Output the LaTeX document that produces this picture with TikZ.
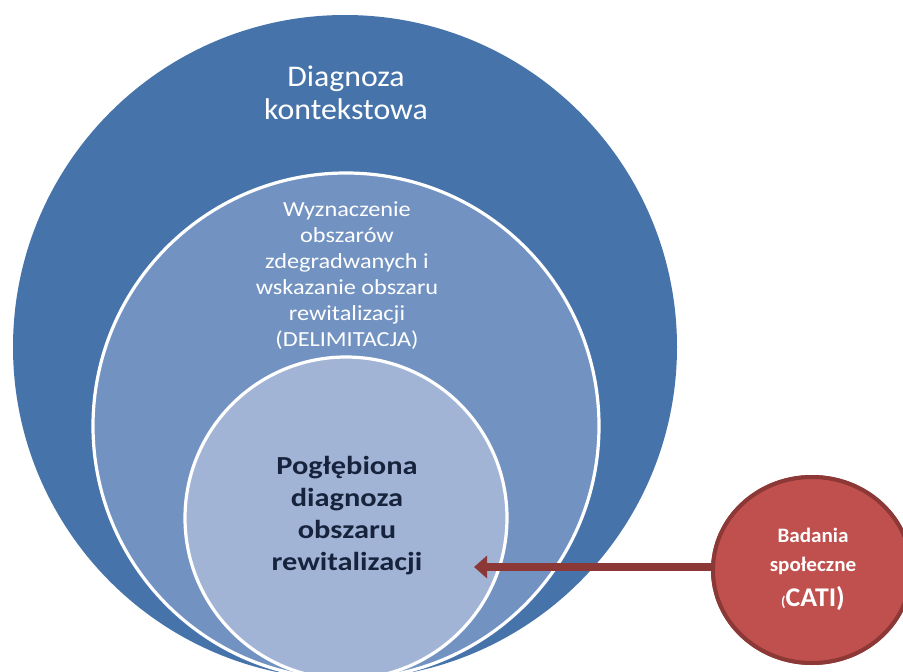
\documentclass[tikz,border=0pt]{standalone}
\usepackage{fontspec}
\setmainfont{Carlito}
\newfontfamily\ctxfont[FakeStretch=1.06]{Carlito}
\newfontfamily\delimfont[FakeStretch=1.13]{Carlito}
\newfontfamily\deepfont[FakeStretch=1.17]{Carlito}
\newfontfamily\socfont[FakeStretch=1.03]{Carlito}
\usetikzlibrary{arrows.meta,shapes.geometric}
\definecolor{outerblue}{RGB}{70,116,170}
\definecolor{midblue}{RGB}{114,147,194}
\definecolor{innerblue}{RGB}{162,180,214}
\definecolor{redfill}{RGB}{192,80,77}
\definecolor{redline}{RGB}{140,56,54}
\definecolor{navytext}{RGB}{23,35,60}
\tikzset{
  ring/.style={line width=3.2pt, draw=white},
  whitetext/.style={text=white, align=center, inner sep=0pt},
  navylabel/.style={text=navytext, align=center, inner sep=0pt},
  linkarrow/.style={draw=redline, line width=8.5pt, -{Triangle[width=22pt,length=13pt]}},
  socshape/.style={ellipse, fill=redfill, draw=redline, line width=4pt, minimum width=198pt, minimum height=186pt, inner sep=0pt},
}
\begin{document}
\begin{tikzpicture}[x=1pt,y=-1pt]
\useasboundingbox (0,0) rectangle (903,672);
\clip (0,0) rectangle (903,672);
\fill[white] (0,0) rectangle (903,672);
% nested circles
\fill[outerblue] (345,347) circle[radius=332];
\fill[midblue] (346,426) circle[radius=253];
\draw[ring] (346,426) circle[radius=253];
\fill[innerblue] (346,518) circle[radius=161];
\draw[ring] (346,518) circle[radius=161];
% labels
\node[whitetext, font=\ctxfont\fontsize{30}{33}\selectfont] (ctx) at (346,93) {Diagnoza\\kontekstowa};
\node[whitetext, font=\delimfont\fontsize{21.5}{26}\selectfont] (delim) at (347,276) {Wyznaczenie\\obszarów\\zdegradwanych i\\wskazanie obszaru\\rewitalizacji\\(DELIMITACJA)};
\node[navylabel, font=\deepfont\bfseries\fontsize{26}{32}\selectfont] (deep) at (347,516) {Pogłębiona\\diagnoza\\obszaru\\rewitalizacji};
% social research
\coordinate (tip) at (474,567);
\node[socshape] (soc) at (812,570) {};
\draw[linkarrow] (soc.west |- tip) -- (tip);
\node[socshape] (socfront) at (soc) {};
\node[whitetext, font=\socfont\bfseries\fontsize{20.5}{29}\selectfont] (soctext) at (813,569) {Badania\\społeczne\\[6pt]{\fontsize{14}{14}\selectfont(}{\fontsize{27}{29}\selectfont CATI)}};
\end{tikzpicture}
\end{document}
